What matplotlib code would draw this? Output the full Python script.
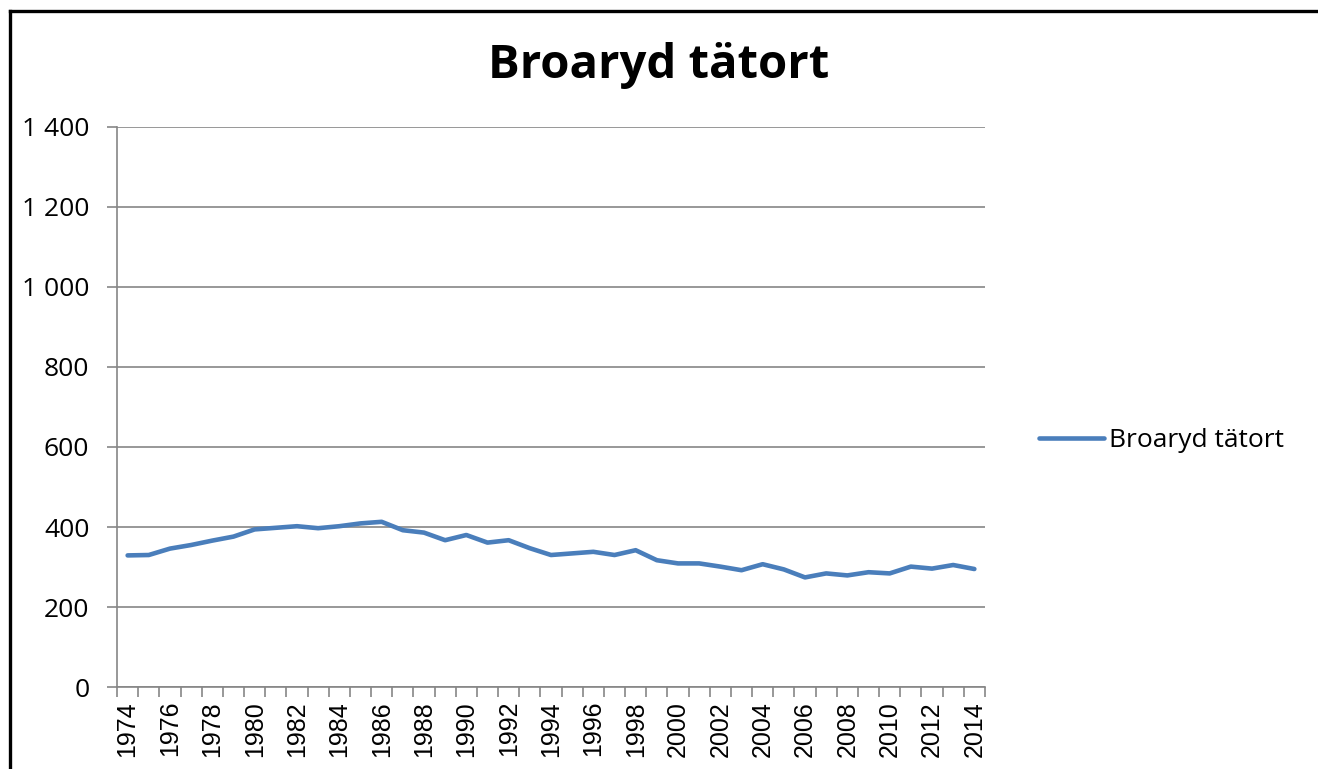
import numpy as np
import matplotlib.pyplot as plt
from matplotlib.ticker import FuncFormatter
from matplotlib.lines import Line2D

years = list(range(1974, 2015))
population = [329, 330, 346, 355, 366, 376, 394, 398, 402, 397, 402, 409, 413,
              392, 386, 367, 380, 361, 367, 347, 330, 334, 338, 330, 342, 317,
              309, 309, 301, 292, 307, 294, 274, 284, 279, 287, 284, 301, 296,
              305, 295]
series_name = "Broaryd tätort"

line_color = "#4a7ebb"
grid_color = "#868686"

fig = plt.figure(figsize=(13.18, 7.69), dpi=100)
ax = fig.add_axes([0.0888, 0.1066, 0.6585, 0.7283])

x = np.arange(len(years))
ax.plot(x, population, color=line_color, linewidth=3.3, label=series_name,
        solid_capstyle="round", solid_joinstyle="round")

ax.set_ylim(0, 1400)
ax.set_yticks(np.arange(0, 1401, 200))
ax.yaxis.set_major_formatter(FuncFormatter(lambda v, p: f"{int(v):,}".replace(",", " ")))
ax.set_xlim(-0.5, len(years) - 0.5)

# labels at every other year, tick marks between categories
ax.set_xticks(x[::2])
ax.set_xticklabels([str(y) for y in years[::2]], rotation=90,
                   fontfamily="Liberation Sans", fontsize=18)
ax.set_xticks(np.arange(-0.5, len(years)), minor=True)
ax.tick_params(axis="x", which="major", length=0, pad=10)
ax.tick_params(axis="x", which="minor", length=7, color=grid_color, width=1.2)
ax.tick_params(axis="y", length=7, color=grid_color, width=1.2, labelsize=19, pad=13)
for lab in ax.get_yticklabels():
    lab.set_fontfamily("Open Sans")

ax.grid(axis="y", color=grid_color, linewidth=1.2)
ax.set_axisbelow(True)
for side in ["top", "right"]:
    ax.spines[side].set_visible(False)
for side in ["left", "bottom"]:
    ax.spines[side].set_color(grid_color)
    ax.spines[side].set_linewidth(1.2)

fig.text(0.4995, 0.915, series_name, ha="center", va="center",
         fontsize=34, fontweight="bold", fontfamily="Open Sans")

leg = ax.legend(loc="center left", bbox_to_anchor=(1.035, 0.44), frameon=False,
                prop={"family": "Open Sans", "size": 19}, handlelength=2.45,
                handletextpad=0.2)

# chart frame border (top and left edges visible)
fig.add_artist(Line2D([0.0075, 1.0], [0.9855, 0.9855], transform=fig.transFigure,
                      color="black", linewidth=2.4))
fig.add_artist(Line2D([0.0075, 0.0075], [0.0, 0.9855], transform=fig.transFigure,
                      color="black", linewidth=2.4))

fig.savefig("out.png", dpi=100)
